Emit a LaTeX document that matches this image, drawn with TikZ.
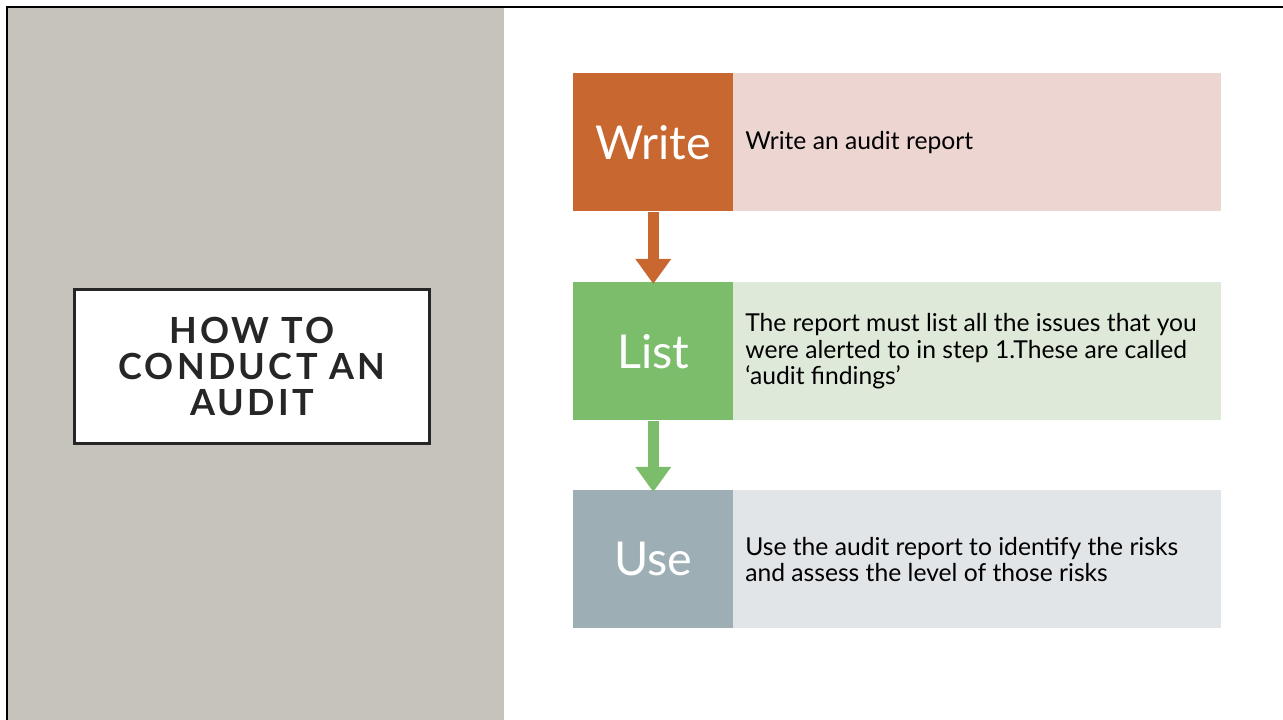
\documentclass[tikz,border=0pt]{standalone}
\usepackage{fontspec}
\setmainfont{Lato}
\usetikzlibrary{arrows.meta}
\definecolor{panel}{HTML}{C6C2BC}
\definecolor{orng}{HTML}{C8672F}
\definecolor{orngl}{HTML}{EDD6D1}
\definecolor{grn}{HTML}{7CBD6B}
\definecolor{grnl}{HTML}{DFE9D9}
\definecolor{blg}{HTML}{9DAFB4}
\definecolor{blgl}{HTML}{E1E5E8}
\definecolor{ink}{HTML}{262626}
\tikzset{
  stepbox/.style={anchor=north west, minimum width=120pt, minimum height=103.5pt, inner sep=0pt, text=white, font=\fontsize{35}{40}\selectfont},
  descbox/.style={anchor=north west, minimum width=366pt, minimum height=103.5pt, inner sep=0pt, text=black},
  desctext/.style={anchor=west, align=left, inner sep=0pt, text=black, font=\fontsize{18.5}{19.8}\selectfont},
  flow/.style={line width=8.25pt, -{Triangle[width=25.5pt,length=18.75pt]}, shorten >=-1.5pt},
}
\begin{document}
\begin{tikzpicture}[x=0.75pt,y=-0.75pt]
\useasboundingbox (0,0) rectangle (1283,720);
\fill[white] (0,0) rectangle (1283,720);
\fill[panel] (8,8) rectangle (504,720);
\draw[line width=1.5pt,black] (7,720) -- (7,7) -- (1283,7);
% title
\node[draw=ink, line width=2.25pt, fill=white, minimum width=266.5pt, minimum height=116pt, inner sep=0pt, text=ink, align=center,
  font=\fontsize{27}{27}\selectfont\bfseries\addfontfeature{LetterSpace=9}] (title) at (252,366.5) {HOW TO\\CONDUCT AN\\AUDIT};
% steps
\node[stepbox, fill=orng] (w) at (573,73) {Write};
\node[descbox, fill=orngl] (wd) at (733,73) {};
\node[desctext] (wt) at ([xshift=9pt]wd.west) {Write an audit report};
\node[stepbox, fill=grn] (l) at (573,282) {List};
\node[descbox, fill=grnl] (ld) at (733,282) {};
\node[desctext] (lt) at ([xshift=9pt]ld.west) {The report must list all the issues that you\\were alerted to in step 1.These are called\\‘audit findings’};
\node[stepbox, fill=blg] (u) at (573,490) {Use};
\node[descbox, fill=blgl] (ud) at (733,490) {};
\node[desctext] (ut) at ([xshift=9pt]ud.west) {Use the audit report to identify the risks\\and assess the level of those risks};
\draw[flow, orng] (w.south) -- (l.north);
\draw[flow, grn] (l.south) -- (u.north);
\end{tikzpicture}
\end{document}
